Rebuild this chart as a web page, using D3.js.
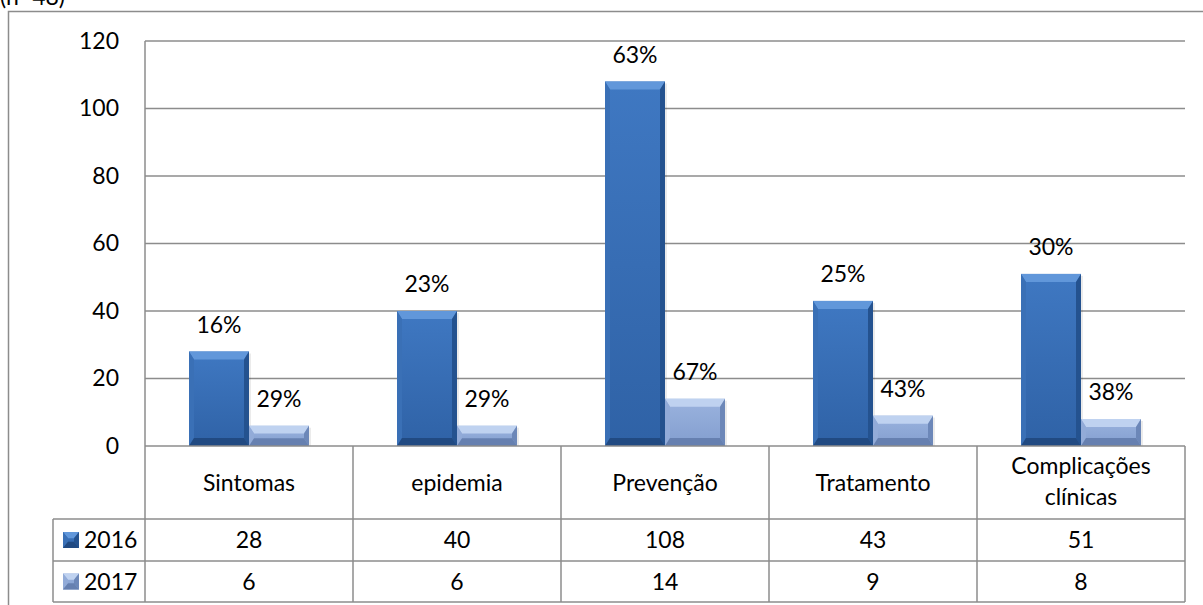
<!DOCTYPE html>
<html>
<head>
<meta charset="utf-8">
<script src="https://cdn.jsdelivr.net/npm/d3@7"></script>
<style>
  html, body { margin: 0; padding: 0; background: #fff; }
  svg { display: block; font-family: Lato, "Open Sans", sans-serif; }
</style>
</head>
<body>
<svg id="chart" width="1203" height="605"></svg>
<script>
// Chart data
const categories = ["Sintomas", "epidemia", "Prevenção", "Tratamento", "Complicações clínicas"];
const seriesNames = ["2016", "2017"];
const values2016 = [28, 40, 108, 43, 51];
const values2017 = [6, 6, 14, 9, 8];
const labels2016 = ["16%", "23%", "63%", "25%", "30%"];
const labels2017 = ["29%", "29%", "67%", "43%", "38%"];
const yTicks = [0, 20, 40, 60, 80, 100, 120];

const series = [
  { name: seriesNames[0], values: values2016, labels: labels2016,
    body: ["#3f78c2", "#2f62a6"], top: "#6197da", left: "#3a70b6", right: "#24528f", bottom: "#214a82" },
  { name: seriesNames[1], values: values2017, labels: labels2017,
    body: ["#9ab3de", "#839ecf"], top: "#bfd2f0", left: "#92abd8", right: "#6c87b8", bottom: "#6680b0" }
];

const FS = 23;
const svg = d3.select("#chart");
const grid = "#8c8c8c";

const plot = { left: 145, right: 1185, top: 41, bottom: 446 };
const tableLeft = 53;
const rowCat = 519, row1 = 561, row2 = 602;

const x = d3.scaleBand().domain(categories).range([plot.left, plot.right]);
const y = d3.scaleLinear().domain([0, 120]).range([plot.bottom, plot.top]);
const barW = 60;

// gradients for bar bodies
const defs = svg.append("defs");
series.forEach((s, i) => {
  const g = defs.append("linearGradient").attr("id", "grad" + i)
    .attr("x1", 0).attr("y1", 0).attr("x2", 0).attr("y2", 1);
  g.append("stop").attr("offset", "0%").attr("stop-color", s.body[0]);
  g.append("stop").attr("offset", "100%").attr("stop-color", s.body[1]);
});

// outer frame
svg.append("path")
  .attr("d", "M8.5,605 L8.5,11.5 L1203,11.5")
  .attr("fill", "none").attr("stroke", grid).attr("stroke-width", 1.5);

// sample size note
svg.append("text").attr("x", 0).attr("y", 5)
  .attr("font-size", FS).attr("fill", "#000").text("(n=48)");

// gridlines
svg.append("g").selectAll("line").data(yTicks.filter(d => d > 0)).join("line")
  .attr("x1", plot.left).attr("x2", plot.right)
  .attr("y1", d => y(d)).attr("y2", d => y(d))
  .attr("stroke", grid).attr("stroke-width", 1.5);

// y axis
const yAxis = svg.append("g").attr("transform", `translate(${plot.left},0)`)
  .call(d3.axisLeft(y).tickValues(yTicks).tickSize(0).tickPadding(26));
yAxis.select(".domain").remove();
yAxis.selectAll("text").attr("font-size", FS).attr("fill", "#000")
  .attr("font-family", "Lato, 'Open Sans', sans-serif");
svg.append("line").attr("x1", plot.left).attr("x2", plot.left)
  .attr("y1", plot.top).attr("y2", row2)
  .attr("stroke", grid).attr("stroke-width", 1.5);

// bars with bevelled edges
function bevelBar(g, bx, by, w, h, s, gi, shadow) {
  const t = Math.min(8, h / 2.6), sd = Math.min(5, h / 3);
  if (shadow) {
    g.append("rect").attr("x", bx + 2).attr("y", by + 2).attr("width", w).attr("height", h - 2)
      .attr("fill", "#000").attr("opacity", 0.08);
  }
  g.append("rect").attr("x", bx).attr("y", by).attr("width", w).attr("height", h)
    .attr("fill", `url(#grad${gi})`);
  const poly = (pts, fill) => g.append("polygon")
    .attr("points", pts.map(p => p.join(",")).join(" ")).attr("fill", fill);
  poly([[bx, by], [bx + w, by], [bx + w - sd, by + t], [bx + sd, by + t]], s.top);
  poly([[bx, by], [bx + sd, by + t], [bx + sd, by + h - t], [bx, by + h]], s.left);
  poly([[bx + w, by], [bx + w, by + h], [bx + w - sd, by + h - t], [bx + w - sd, by + t]], s.right);
  poly([[bx, by + h], [bx + sd, by + h - t], [bx + w - sd, by + h - t], [bx + w, by + h]], s.bottom);
}

series.forEach((s, si) => {
  const g = svg.append("g");
  categories.forEach((c, ci) => {
    const bx = x(c) + x.bandwidth() / 2 - barW + si * barW;
    const by = y(s.values[ci]);
    bevelBar(g, bx, by, barW, y(0) - by, s, si, true);
    g.append("text").attr("x", bx + barW / 2).attr("y", by - 19)
      .attr("text-anchor", "middle").attr("font-size", FS).attr("fill", "#000")
      .text(s.labels[ci]);
  });
});

// data table
const tg = svg.append("g").attr("stroke", grid).attr("stroke-width", 1.5);
tg.append("line").attr("x1", plot.left).attr("x2", plot.right).attr("y1", plot.bottom).attr("y2", plot.bottom);
[rowCat, row1, row2].forEach(yy =>
  tg.append("line").attr("x1", tableLeft).attr("x2", plot.right).attr("y1", yy).attr("y2", yy));
tg.append("line").attr("x1", tableLeft).attr("x2", tableLeft).attr("y1", rowCat).attr("y2", row2);
categories.forEach(c => {
  tg.append("line").attr("x1", x(c) + x.bandwidth()).attr("x2", x(c) + x.bandwidth())
    .attr("y1", plot.bottom).attr("y2", row2);
});

// category headers
const catG = svg.append("g").attr("font-size", FS).attr("text-anchor", "middle");
categories.forEach(c => {
  const cx = x(c) + x.bandwidth() / 2;
  const words = c === "Complicações clínicas" ? ["Complicações", "clínicas"] : [c];
  const mid = (plot.bottom + rowCat) / 2;
  words.forEach((w, i) => {
    catG.append("text").attr("x", cx)
      .attr("y", mid + 8 + (i - (words.length - 1) / 2) * 31 - (words.length - 1) * 1.5)
      .text(w);
  });
});

// series rows with legend keys
const rows = [[rowCat, row1], [row1, row2]];
series.forEach((s, si) => {
  const [r0, r1] = rows[si];
  const my = (r0 + r1) / 2;
  const key = svg.append("g");
  bevelBar(key, 63, my - 8, 16, 16, s, si, false);
  svg.append("text").attr("x", 84).attr("y", my + 8).attr("font-size", FS).text(s.name);
  categories.forEach((c, ci) => {
    svg.append("text").attr("x", x(c) + x.bandwidth() / 2).attr("y", my + 8)
      .attr("text-anchor", "middle").attr("font-size", FS).text(s.values[ci]);
  });
});
</script>
</body>
</html>
